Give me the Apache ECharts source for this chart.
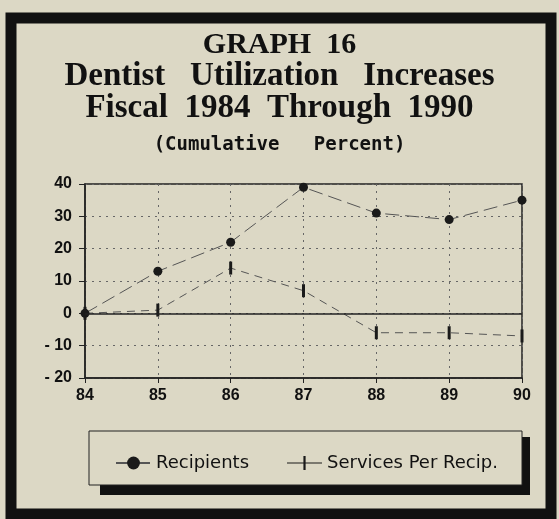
<!DOCTYPE html>
<html>
<head>
<meta charset="utf-8">
<script src="https://cdn.jsdelivr.net/npm/echarts@6/dist/echarts.min.js"></script>
<style>
  html, body { margin: 0; padding: 0; background: #d9d5c2; }
  #chart { width: 559px; height: 519px; }
</style>
</head>
<body>
<div id="chart"></div>
<script>
// fiscal years (x axis)
const years = ['84', '85', '86', '87', '88', '89', '90']
// cumulative percent
const recipients = [0, 13, 22, 39, 31, 29, 35]
const servicesPerRecip = [0, 1, 14, 7, -6, -6, -7]
// y ticks
const yMin = -20, yMax = 40, yStep = 10

const titleFont = '"Liberation Serif", "DejaVu Serif", serif'
const labelFont = '"Liberation Sans", Arial, sans-serif'
const bg = '#dcd8c5'

// marker used for "Services Per Recip." - thin vertical bar
const barMark = 'path://M0,0 L2,0 L2,12 L0,12 Z'
// legend icon: short line crossed by the bar
const barLegend = 'path://M0,6 L32,6 L32,7 L0,7 Z M15,0 L17,0 L17,13 L15,13 Z'

var myChart = echarts.init(document.getElementById('chart'))

var option = {
    backgroundColor: bg,
    animation: false,
    title: [
        {
            text: 'GRAPH  16',
            left: 'center', top: 25,
            textStyle: { fontFamily: titleFont, fontWeight: 'bold', fontSize: 30, color: '#111' }
        },
        {
            text: 'Dentist   Utilization   Increases\nFiscal  1984  Through  1990',
            left: 'center', top: 55,
            textStyle: { fontFamily: titleFont, fontWeight: 'bold', fontSize: 33, lineHeight: 32, color: '#111' }
        },
        {
            text: '(Cumulative   Percent)',
            left: 'center', top: 131,
            textStyle: { fontFamily: '"DejaVu Sans Mono", monospace', fontWeight: 'bold', fontSize: 19, color: '#111' }
        }
    ],
    legend: {
        left: 110, top: 449,
        itemWidth: 35, itemHeight: 16, itemGap: 38,
        textStyle: { fontFamily: '"DejaVu Sans", sans-serif', fontSize: 18, color: '#111' },
        data: [
            { name: 'Recipients' },
            { name: 'Services Per Recip.', icon: barLegend }
        ]
    },
    grid: {
        left: 85, right: 37, top: 184, bottom: 141,
        show: true, borderColor: '#222', borderWidth: 1.5, backgroundColor: 'transparent'
    },
    xAxis: {
        type: 'category',
        data: years,
        boundaryGap: false,
        axisLine: { onZero: false, lineStyle: { color: '#222', width: 1.5 } },
        axisTick: { show: true, alignWithLabel: true, length: 5, lineStyle: { color: '#222' } },
        axisLabel: { fontFamily: labelFont, fontSize: 16, fontWeight: 'bold', color: '#111', margin: 10 },
        splitLine: { show: true, lineStyle: { color: '#666', type: [2, 5], width: 1 } }
    },
    yAxis: {
        type: 'value',
        min: yMin, max: yMax, interval: yStep,
        axisLine: { show: true, lineStyle: { color: '#222', width: 1.5 } },
        axisTick: { show: true, length: 6, lineStyle: { color: '#222' } },
        axisLabel: {
            fontFamily: labelFont, fontSize: 16, fontWeight: 'bold', color: '#111', margin: 13,
            formatter: v => v < 0 ? '- ' + (-v) : '' + v
        },
        splitLine: { show: true, lineStyle: { color: '#666', type: [2, 5], width: 1 } }
    },
    series: [
        {
            name: 'Recipients',
            type: 'line',
            data: recipients,
            symbol: 'circle',
            symbolSize: 9,
            itemStyle: { color: '#1a1a1a' },
            lineStyle: { color: '#555', width: 1, type: [14, 6] },
            markLine: {
                silent: true, symbol: 'none', label: { show: false },
                lineStyle: { color: '#222', type: 'solid', width: 1.5 },
                data: [{ yAxis: 0 }]
            }
        },
        {
            name: 'Services Per Recip.',
            type: 'line',
            data: servicesPerRecip,
            symbol: barMark,
            symbolSize: [3, 13],
            itemStyle: { color: '#1a1a1a' },
            lineStyle: { color: '#555', width: 1, type: [8, 6] }
        }
    ],
    graphic: [
        // outer thick frame
        { type: 'rect', shape: { x: 11, y: 18, width: 540, height: 496 }, style: { fill: 'none', stroke: '#111', lineWidth: 11 }, z: 100 },
        // legend box shadow
        { type: 'rect', shape: { x: 100, y: 437, width: 430, height: 58 }, style: { fill: '#111' }, z: -1 },
        // legend box
        { type: 'rect', shape: { x: 89, y: 431, width: 433, height: 54 }, style: { fill: bg, stroke: '#222', lineWidth: 1 }, z: 0 }
    ]
}
myChart.setOption(option)
</script>
</body>
</html>
